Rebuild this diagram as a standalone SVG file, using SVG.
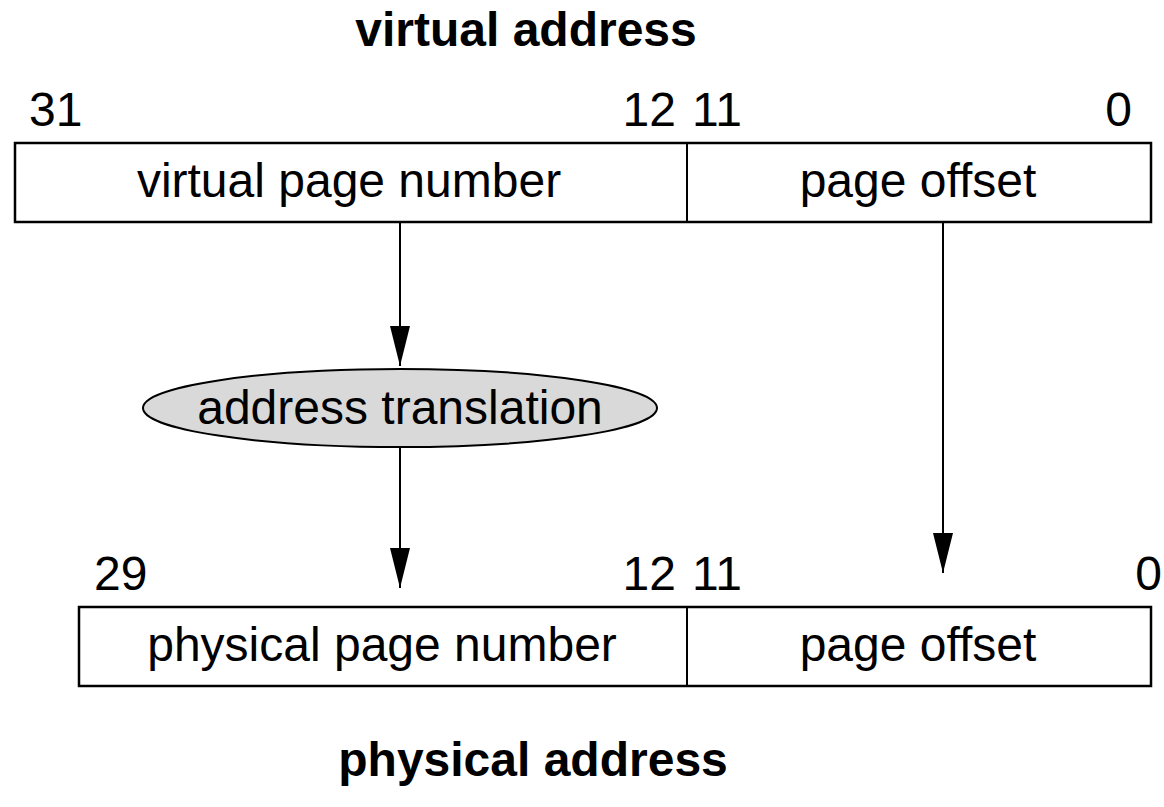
<svg xmlns="http://www.w3.org/2000/svg" width="1164" height="807" viewBox="0 0 1164 807">
  <style>
    text { font-family: "Liberation Sans", Arial, sans-serif; font-size: 48px; fill: #000; }
    .title { font-weight: bold; text-anchor: middle; }
    .mid { text-anchor: middle; }
    .end { text-anchor: end; }
    .box { fill: #fff; stroke: #000; stroke-width: 2.5; }
    .div { stroke: #000; stroke-width: 2; }
    .edge { stroke: #000; stroke-width: 2; fill: none; }
  </style>
  <defs>
    <marker id="arrow" markerUnits="userSpaceOnUse" viewBox="0 0 40 22" refX="40" refY="11" markerWidth="40" markerHeight="22" orient="auto">
      <path d="M0,1 L40,11 L0,21 Z" fill="#000"/>
    </marker>
  </defs>
  <rect width="1164" height="807" fill="#fff"/>

  <text class="title" x="526" y="46">virtual address</text>
  <text class="title" x="533" y="776">physical address</text>

  <!-- virtual address register -->
  <g id="virtual-register">
    <text x="29" y="126">31</text>
    <text class="end" x="676" y="126">12</text>
    <text x="692" y="126">11</text>
    <text class="end" x="1132" y="126">0</text>
    <rect class="box" x="15" y="143" width="1136" height="79"/>
    <line class="div" x1="687" y1="143" x2="687" y2="222"/>
    <text class="mid" x="349" y="197">virtual page number</text>
    <text class="mid" x="918" y="197">page offset</text>
  </g>

  <!-- translation step -->
  <g id="translation">
    <ellipse cx="400" cy="408" rx="257" ry="39" fill="#d9d9d9" stroke="#000" stroke-width="2"/>
    <text class="mid" x="400" y="424">address translation</text>
  </g>

  <!-- physical address register -->
  <g id="physical-register">
    <text x="94" y="590">29</text>
    <text class="end" x="676" y="590">12</text>
    <text x="692" y="590">11</text>
    <text class="end" x="1162" y="590">0</text>
    <rect class="box" x="79" y="607" width="1072" height="79"/>
    <line class="div" x1="687" y1="607" x2="687" y2="686"/>
    <text class="mid" x="382" y="661">physical page number</text>
    <text class="mid" x="918" y="661">page offset</text>
  </g>

  <g id="connectors">
    <line class="edge" x1="400" y1="223" x2="400" y2="366" marker-end="url(#arrow)"/>
    <line class="edge" x1="400" y1="447" x2="400" y2="588" marker-end="url(#arrow)"/>
    <line class="edge" x1="943" y1="223" x2="943" y2="573" marker-end="url(#arrow)"/>
  </g>
</svg>
